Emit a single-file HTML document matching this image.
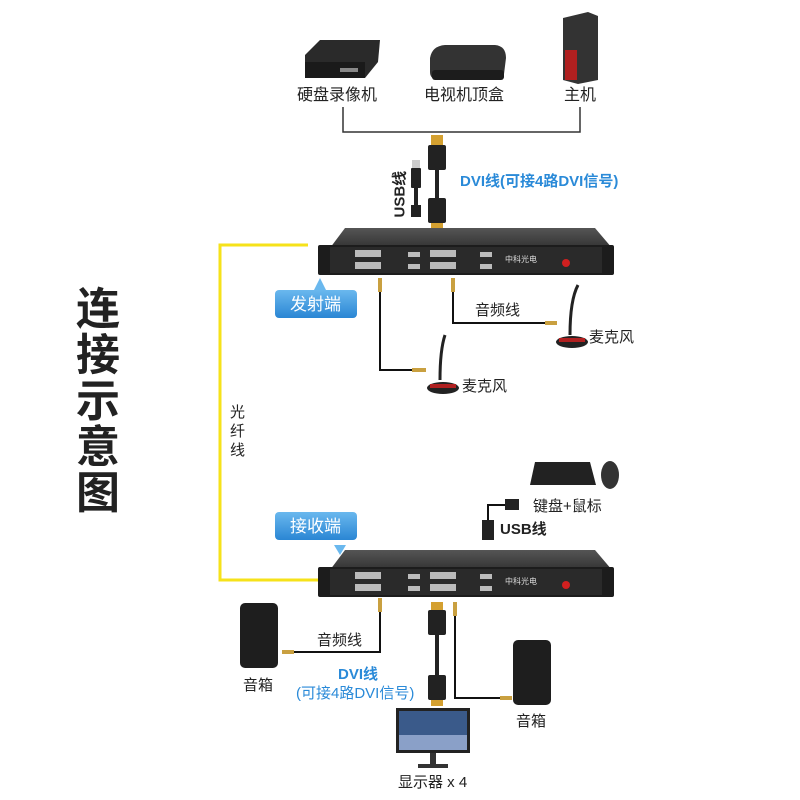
<!DOCTYPE html>
<html><head><meta charset="utf-8"><style>
body{margin:0;width:800px;height:800px;background:#fff;position:relative;overflow:hidden;font-family:"Liberation Sans","Noto Sans CJK SC",sans-serif;}
.t{position:absolute;font-size:16px;color:#222;white-space:nowrap;line-height:1;}
.b{color:#2a8ad8;font-weight:bold;}
</style></head><body>
<svg width="800" height="800" style="position:absolute;left:0;top:0">
<defs>
<linearGradient id="lb" x1="0" y1="0" x2="0" y2="1"><stop offset="0" stop-color="#6ab8ee"/><stop offset="1" stop-color="#2a86d4"/></linearGradient>
<linearGradient id="top" x1="0" y1="0" x2="0" y2="1"><stop offset="0" stop-color="#555"/><stop offset="1" stop-color="#333"/></linearGradient>
</defs>
<polygon points="305,55 320,40 380,40 378,62 365,78 305,78" fill="#2a2a2a"/>
<rect x="305" y="62" width="60" height="16" fill="#1a1a1a"/>
<rect x="340" y="68" width="18" height="4" fill="#888"/>
<path d="M430,58 Q432,46 445,45 L495,45 Q506,46 506,58 L504,74 Q503,80 495,80 L440,80 Q430,80 430,72 Z" fill="#333"/>
<rect x="432" y="70" width="72" height="10" rx="3" fill="#1c1c1c"/>
<polygon points="563,18 588,12 598,16 598,80 578,84 563,80" fill="#333"/>
<rect x="565" y="50" width="12" height="30" fill="#b02020"/>
<polyline points="343,107 343,132 580,132 580,107" fill="none" stroke="#333" stroke-width="1.5"/>
<rect x="431" y="135" width="12" height="10" fill="#d4a030"/>
<rect x="428" y="145" width="18" height="25" rx="2" fill="#222"/>
<rect x="435" y="170" width="4" height="28" fill="#222"/>
<rect x="428" y="198" width="18" height="25" rx="2" fill="#222"/>
<rect x="431" y="223" width="12" height="8" fill="#d4a030"/>
<rect x="412" y="160" width="8" height="8" fill="#ccc"/>
<rect x="411" y="168" width="10" height="20" rx="1" fill="#222"/>
<rect x="414" y="188" width="4" height="20" fill="#222"/>
<rect x="411" y="205" width="10" height="12" fill="#222"/>
<polyline points="308,245 220,245 220,580 318,580" fill="none" stroke="#f6e21a" stroke-width="3"/>
<polygon points="330,248 345,228 595,228 612,248" fill="url(#top)"/>
<rect x="318" y="245" width="296" height="30" rx="2" fill="#1c1c1c"/>
<rect x="330" y="247" width="272" height="26" fill="#2a2a2a"/>
<g fill="#bbb">
<rect x="355" y="250" width="26" height="7"/><rect x="355" y="262" width="26" height="7"/>
<rect x="430" y="250" width="26" height="7"/><rect x="430" y="262" width="26" height="7"/>
<rect x="408" y="252" width="12" height="5"/><rect x="408" y="264" width="12" height="5"/>
<rect x="480" y="252" width="12" height="5"/><rect x="480" y="264" width="12" height="5"/>
<text x="505" y="262" font-size="8" fill="#ddd">中科光电</text>
</g>
<circle cx="566" cy="263" r="4" fill="#d02020"/>
<polygon points="330,570 345,550 595,550 612,570" fill="url(#top)"/>
<rect x="318" y="567" width="296" height="30" rx="2" fill="#1c1c1c"/>
<rect x="330" y="569" width="272" height="26" fill="#2a2a2a"/>
<g fill="#bbb">
<rect x="355" y="572" width="26" height="7"/><rect x="355" y="584" width="26" height="7"/>
<rect x="430" y="572" width="26" height="7"/><rect x="430" y="584" width="26" height="7"/>
<rect x="408" y="574" width="12" height="5"/><rect x="408" y="586" width="12" height="5"/>
<rect x="480" y="574" width="12" height="5"/><rect x="480" y="586" width="12" height="5"/>
<text x="505" y="584" font-size="8" fill="#ddd">中科光电</text>
</g>
<circle cx="566" cy="585" r="4" fill="#d02020"/>
<polygon points="314,290 320,278 326,290" fill="#6ab8ee"/>
<rect x="275" y="290" width="82" height="28" rx="4" fill="url(#lb)"/>
<rect x="275" y="512" width="82" height="28" rx="4" fill="url(#lb)"/>
<polygon points="334,545 340,555 346,545" fill="#6ab8ee"/>
<g fill="none" stroke="#111" stroke-width="2">
<polyline points="380,290 380,370 412,370"/>
<polyline points="453,290 453,323 545,323"/>
<polyline points="380,610 380,652 290,652"/>
<polyline points="455,610 455,698 500,698"/>
<polyline points="505,505 488,505 488,525"/>
</g>
<g fill="#c9a040"><rect x="378" y="278" width="4" height="14"/><rect x="451" y="278" width="4" height="14"/>
<rect x="378" y="598" width="4" height="14"/><rect x="453" y="602" width="4" height="14"/>
<rect x="412" y="368" width="14" height="4"/><rect x="545" y="321" width="12" height="4"/>
<rect x="282" y="650" width="12" height="4"/><rect x="500" y="696" width="12" height="4"/></g>
<rect x="505" y="499" width="14" height="11" fill="#222"/>
<rect x="482" y="520" width="12" height="20" fill="#222"/>
<path d="M445,335 Q440,350 440,380" stroke="#222" stroke-width="3" fill="none"/>
<ellipse cx="443" cy="388" rx="16" ry="6" fill="#222"/><rect x="430" y="384" width="26" height="4" fill="#b02020"/>
<path d="M578,285 Q570,300 570,335" stroke="#222" stroke-width="3" fill="none"/>
<ellipse cx="572" cy="342" rx="16" ry="6" fill="#222"/><rect x="559" y="338" width="26" height="4" fill="#b02020"/>
<polygon points="535,462 590,462 596,485 530,485" fill="#222"/>
<ellipse cx="610" cy="475" rx="9" ry="14" fill="#333"/>
<rect x="431" y="602" width="12" height="8" fill="#d4a030"/>
<rect x="428" y="610" width="18" height="25" rx="2" fill="#222"/>
<rect x="435" y="635" width="4" height="40" fill="#222"/>
<rect x="428" y="675" width="18" height="25" rx="2" fill="#222"/>
<rect x="431" y="700" width="12" height="6" fill="#d4a030"/>
<rect x="240" y="603" width="38" height="65" rx="5" fill="#1e1e1e"/>
<rect x="513" y="640" width="38" height="65" rx="5" fill="#1e1e1e"/>
<rect x="396" y="708" width="74" height="45" fill="#222"/>
<rect x="399" y="711" width="68" height="39" fill="#3a5a8a"/>
<rect x="399" y="735" width="68" height="15" fill="#8aa0c8"/>
<rect x="430" y="753" width="6" height="12" fill="#333"/>
<rect x="418" y="764" width="30" height="4" fill="#333"/>
</svg>
<div class="t" style="left:297px;top:88px">硬盘录像机</div>
<div class="t" style="left:424px;top:88px">电视机顶盒</div>
<div class="t" style="left:564px;top:88px">主机</div>
<div class="t" style="left:380px;top:190px;transform:rotate(-90deg);transform-origin:center;font-weight:bold;font-size:15px;width:40px">USB线</div>
<div class="t b" style="left:460px;top:174px;font-size:15px">DVI线(可接4路DVI信号)</div>
<div class="t" style="left:290px;top:296px;color:#fff;font-size:17px">发射端</div>
<div class="t" style="left:290px;top:518px;color:#fff;font-size:17px">接收端</div>
<div class="t" style="left:76px;top:287px;font-size:44px;width:46px;line-height:46px;white-space:normal;font-weight:bold;color:#222">连接示意图</div>
<div class="t" style="left:230px;top:403px;width:16px;white-space:normal;line-height:19px;font-size:15px">光纤线</div>
<div class="t" style="left:475px;top:303px;font-size:15px">音频线</div>
<div class="t" style="left:589px;top:330px;font-size:15px">麦克风</div>
<div class="t" style="left:462px;top:379px;font-size:15px">麦克风</div>
<div class="t" style="left:533px;top:499px;font-size:15px">键盘+鼠标</div>
<div class="t" style="left:500px;top:522px;font-size:15px;font-weight:bold">USB线</div>
<div class="t" style="left:317px;top:633px;font-size:15px">音频线</div>
<div class="t b" style="left:338px;top:667px;font-size:15px">DVI线</div>
<div class="t b" style="left:296px;top:686px;font-size:15px;font-weight:normal">(可接4路DVI信号)</div>
<div class="t" style="left:243px;top:678px;font-size:15px">音箱</div>
<div class="t" style="left:516px;top:714px;font-size:15px">音箱</div>
<div class="t" style="left:398px;top:775px;font-size:15px">显示器 x 4</div>
</body></html>
